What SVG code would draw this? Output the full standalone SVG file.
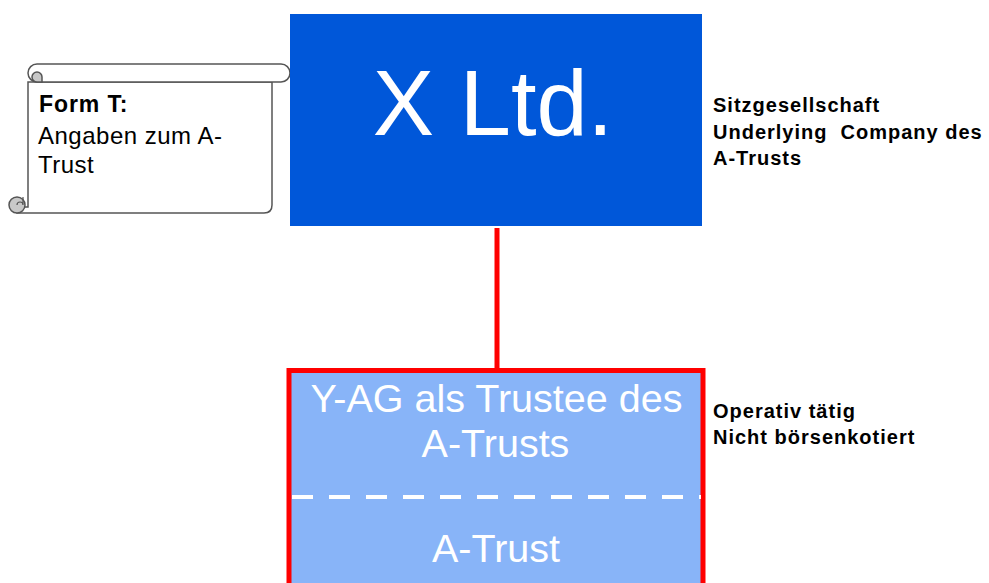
<svg xmlns="http://www.w3.org/2000/svg" width="989" height="583" viewBox="0 0 989 583">
<style>
.lbl{font-family:"Liberation Sans",Arial,sans-serif;font-weight:bold;font-size:20px;letter-spacing:1px;fill:#000;white-space:pre}
.wt{font-family:"Liberation Sans",Arial,sans-serif;fill:#fff;text-anchor:middle}
.scr{fill:#fff;stroke:#555;stroke-width:1.5}
.curl{fill:#c8c8c8;stroke:#555;stroke-width:1.5}
</style>
<rect width="989" height="583" fill="#fff"/>
<g id="connectors">
<line x1="497" y1="228" x2="497" y2="370" stroke="#ff0000" stroke-width="5"/>
</g>
<g id="scroll">
<path class="scr" d="M28 82 L28 207 L17 207 L17 213 L264 213 Q272 213 272 205 L272 82 Z"/>
<rect class="scr" x="28" y="64" width="262" height="18" rx="9"/>
<path class="curl" d="M32 77 A5 5 0 0 1 42 77 L42 82 L37 82 A5 5 0 0 1 32 77 Z"/>
<circle class="curl" cx="17" cy="205" r="8"/>
<path d="M17 205 A3 3 0 0 1 23 205 L23 197" fill="none" stroke="#555" stroke-width="1.2"/>
<text x="39" y="112" font-family="Liberation Sans,Arial,sans-serif" font-weight="bold" font-size="23" letter-spacing="0.9">Form T:</text>
<text x="38" y="144" font-family="Liberation Sans,Arial,sans-serif" font-size="24" letter-spacing="0.5">Angaben zum A-</text>
<text x="38" y="173" font-family="Liberation Sans,Arial,sans-serif" font-size="24" letter-spacing="0.5">Trust</text>
</g>
<g id="xltd">
<rect x="290" y="14" width="412" height="212" fill="#0057d9"/>
<text class="wt" x="493" y="135" font-size="92">X Ltd.</text>
</g>
<g id="xltd-label">
<text class="lbl" x="713" y="112">Sitzgesellschaft</text>
<text class="lbl" x="713" y="139">Underlying  Company des</text>
<text class="lbl" x="713" y="165">A-Trusts</text>
</g>
<g id="yag">
<rect x="289" y="370.5" width="414" height="240" fill="#88b4f8" stroke="#ff0000" stroke-width="5"/>
<text class="wt" x="496.5" y="412" font-size="39.5">Y-AG als Trustee des</text>
<text class="wt" x="495.5" y="457" font-size="39.5">A-Trusts</text>
<line x1="292" y1="497" x2="701" y2="497" stroke="#fff" stroke-width="4" stroke-dasharray="21 16"/>
<text class="wt" x="496" y="562" font-size="39.5">A-Trust</text>
</g>
<g id="yag-label">
<text class="lbl" x="713" y="418">Operativ tätig</text>
<text class="lbl" x="713" y="444">Nicht börsenkotiert</text>
</g>
</svg>
